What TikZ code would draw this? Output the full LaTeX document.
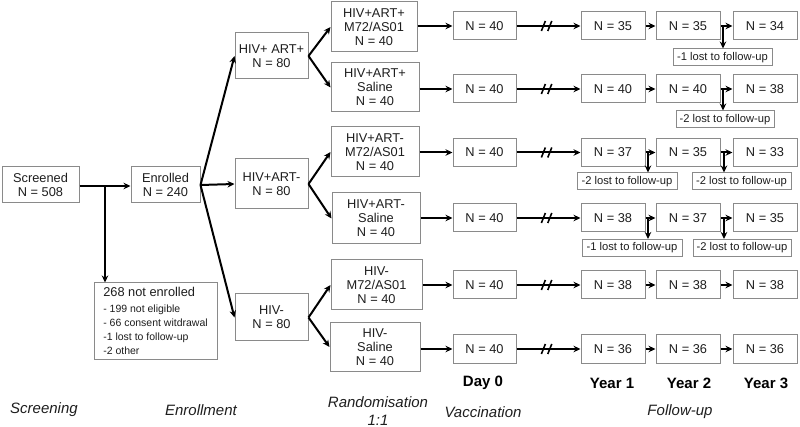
\documentclass[tikz,border=0pt]{standalone}
\usepackage{fontspec}
\setmainfont{Liberation Sans}
\usetikzlibrary{arrows.meta,calc}
\definecolor{boxgray}{HTML}{8A8A8A}
\definecolor{ink}{HTML}{1E1E1E}
\begin{document}
\begin{tikzpicture}[x=1pt,y=-1pt,
  box/.style={draw=boxgray, line width=1pt, fill=white, inner sep=0pt, align=center,
              font=\fontsize{12.8}{14}\selectfont, text=ink},
  yr/.style={box, minimum width=64, minimum height=28},
  lostbox/.style={box, font=\fontsize{11.2}{13}\selectfont, minimum height=17},
  arr/.style={draw=black, line width=2pt, -{Stealth[length=7pt,width=6.5pt]}},
  brk/.style={draw=black, line width=1.6pt},
  lab/.style={font=\fontsize{15}{17}\selectfont\itshape, text=ink, align=center},
  blab/.style={font=\fontsize{15}{17}\selectfont\bfseries, text=black}]
\useasboundingbox (0,0) rectangle (800,427);

% screening / enrollment
\node[box, minimum width=77, minimum height=36] (scr) at (40.5,185) {Screened\\N = 508};
\node[box, minimum width=69, minimum height=36] (enr) at (165.5,185) {Enrolled\\N = 240};
\node[box, minimum width=123, minimum height=76, align=left] (ne) at (155.5,321)
  {268 not enrolled\\[2.5pt]
   {\fontsize{10.5}{12.8}\selectfont - 199 not eligible}\\
   {\fontsize{10.5}{12.8}\selectfont - 66 consent witdrawal}\\
   {\fontsize{10.5}{12.8}\selectfont -1 lost to follow-up}\\
   {\fontsize{10.5}{12.8}\selectfont -2 other}};

% groups
\node[box, minimum width=73, minimum height=46] (g1) at (271.5,56) {HIV+ ART+\\N = 80};
\node[box, minimum width=73, minimum height=50] (g2) at (271.5,184) {HIV+ART-\\N = 80};
\node[box, minimum width=73, minimum height=47] (g3) at (271.5,317.5) {HIV-\\N = 80};

% randomisation
\node[box, minimum width=86, minimum height=50] (r1) at (374,27) {HIV+ART+\\M72/AS01\\N = 40};
\node[box, minimum width=88, minimum height=49] (r2) at (375,87.5) {HIV+ART+\\Saline\\N = 40};
\node[box, minimum width=88, minimum height=50] (r3) at (375,152) {HIV+ART-\\M72/AS01\\N = 40};
\node[box, minimum width=88, minimum height=51] (r4) at (376,218.5) {HIV+ART-\\Saline\\N = 40};
\node[box, minimum width=91, minimum height=50] (r5) at (376.5,285) {HIV-\\M72/AS01\\N = 40};
\node[box, minimum width=90, minimum height=48] (r6) at (375,347) {HIV-\\Saline\\N = 40};

% connectors left part
\draw[arr] (scr.east |- 0,186) -- (enr.west |- 0,186);
\coordinate (sb) at (105,186);
\draw[arr] (sb) -- (sb |- ne.north);
\draw[arr] (enr.east) -- (g1.west);
\draw[arr] (enr.east) -- (g2.west);
\draw[arr] (enr.east) -- (g3.west);
\draw[arr] (g1.east) -- (r1.west);
\draw[arr] (g1.east) -- (r2.west);
\draw[arr] (g2.east) -- (r3.west);
\draw[arr] (g2.east) -- (r4.west);
\draw[arr] (g3.east) -- (r5.west);
\draw[arr] (g3.east) -- (r6.west);

% vaccination and follow-up rows
\foreach \i/\yy/\va/\vb/\vc in {1/26/35/35/34, 2/89/40/40/38, 3/152.5/37/35/33,
                                 4/218/38/37/35, 5/285/38/38/38, 6/349/36/36/36} {
  \node[box, minimum width=63, minimum height=28] (d\i) at (484.5,\yy) {N = 40};
  \node[yr] (a\i) at (613,\yy) {N = \va};
  \node[yr] (b\i) at (688,\yy) {N = \vb};
  \node[yr] (c\i) at (765,\yy) {N = \vc};
  \draw[arr] (r\i.east |- d\i) -- (d\i.west);
  \draw[arr] (d\i) -- (a\i);
  \draw[arr] (a\i) -- (b\i);
  \draw[arr] (b\i) -- (c\i);
  \path (d\i.east) -- (a\i.west) coordinate[pos=0.42] (p\i) coordinate[pos=0.52] (q\i);
  \draw[brk] ($(p\i)+(-2,5)$) -- ($(p\i)+(2,-5)$);
  \draw[brk] ($(q\i)+(-2,5)$) -- ($(q\i)+(2,-5)$);
}

% lost to follow-up
\node[lostbox, minimum width=99] (l1) at (722.5,57.5) {-1 lost to follow-up};
\node[lostbox, minimum width=98] (l2) at (725,119.5) {-2 lost to follow-up};
\node[lostbox, minimum width=100] (l3a) at (627,181.5) {-2 lost to follow-up};
\node[lostbox, minimum width=99] (l3b) at (741.5,181.5) {-2 lost to follow-up};
\node[lostbox, minimum width=100] (l4a) at (632,248) {-1 lost to follow-up};
\node[lostbox, minimum width=98] (l4b) at (742,248) {-2 lost to follow-up};

\coordinate (t1) at (723,26);
\coordinate (t2) at (723,89);
\coordinate (t3a) at (648,152.5);
\coordinate (t3b) at (724,152.5);
\coordinate (t4a) at (648,218);
\coordinate (t4b) at (724,218);
\draw[arr] (t1) -- (t1 |- l1.north);
\draw[arr] (t2) -- (t2 |- l2.north);
\draw[arr] (t3a) -- (t3a |- l3a.north);
\draw[arr] (t3b) -- (t3b |- l3b.north);
\draw[arr] (t4a) -- (t4a |- l4a.north);
\draw[arr] (t4b) -- (t4b |- l4b.north);

% bottom labels
\node[lab] (lscr) at (44,410) {Screening};
\node[lab] (lenr) at (201,410) {Enrollment};
\node[lab] (lran) at (378,402) {Randomisation};
\node[lab] (lrat) at (378,420) {1:1};
\node[blab] (lday) at (483,383) {Day 0};
\node[lab] (lvac) at (483,412) {Vaccination};
\node[blab] (ly1) at (612,383) {Year 1};
\node[blab] (ly2) at (689,383) {Year 2};
\node[blab] (ly3) at (766,383) {Year 3};
\node[lab] (lfol) at (680,412) {Follow-up};
\end{tikzpicture}
\end{document}
